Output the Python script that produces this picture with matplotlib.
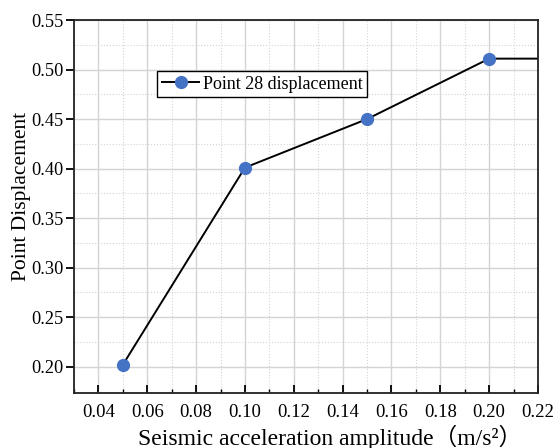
import numpy as np
import matplotlib.pyplot as plt
from matplotlib.ticker import MultipleLocator

amplitude = [0.05, 0.10, 0.15, 0.20, 0.25]
displacement = [0.202, 0.401, 0.450, 0.511, 0.511]

plt.rcParams['font.family'] = ['Liberation Serif', 'Noto Sans CJK SC']

fig = plt.figure(figsize=(5.55, 4.48), dpi=100)
ax = fig.add_axes([74 / 555, 55 / 448, 464 / 555, 373 / 448])

ax.plot(amplitude, displacement, color='black', linewidth=1.4, marker='o',
        markersize=8.5, markerfacecolor='#4472C4', markeredgecolor='#4472C4',
        label='Point 28 displacement')

ax.set_xlim(0.03, 0.22)
ax.set_ylim(0.1735, 0.55)
ax.xaxis.set_major_locator(MultipleLocator(0.02))
ax.xaxis.set_minor_locator(MultipleLocator(0.01))
ax.yaxis.set_major_locator(MultipleLocator(0.05))
ax.yaxis.set_minor_locator(MultipleLocator(0.025))
ax.xaxis.set_major_formatter(plt.FormatStrFormatter('%.2f'))
ax.yaxis.set_major_formatter(plt.FormatStrFormatter('%.2f'))

ax.grid(which='major', color='#d4d4d4', linewidth=1.0, linestyle='-')
ax.grid(which='minor', color='#d4d4d4', linewidth=0.8, linestyle=':')
ax.set_axisbelow(True)

ax.tick_params(axis='x', which='major', direction='in', length=6, width=1.3, labelsize=13.5, pad=8)
ax.tick_params(axis='x', which='minor', direction='in', length=3, width=1.0)
ax.tick_params(axis='y', which='major', direction='out', length=6, width=1.3, labelsize=13.2, pad=1.5)
ax.tick_params(axis='y', which='minor', direction='out', length=0)

for s in ax.spines.values():
    s.set_linewidth(1.3)
    s.set_color('#222222')

# x label sits low, partly cut at the bottom edge as in the original
fig.text(330 / 555, 3 / 448, 'Seismic acceleration amplitude（m/s²）', fontsize=17,
         ha='center', va='baseline')
ax.set_ylabel('Point Displacement', fontsize=15.5)
ax.yaxis.set_label_coords(-0.092, 0.527)

leg = ax.legend(loc='upper left', bbox_to_anchor=(0.179, 0.863), fontsize=13,
                frameon=True, fancybox=False, edgecolor='black', framealpha=1,
                borderpad=0.25, handlelength=2.1, handletextpad=0.2, borderaxespad=0)
leg.get_frame().set_linewidth(1.0)

fig.savefig('out.png', dpi=100)
